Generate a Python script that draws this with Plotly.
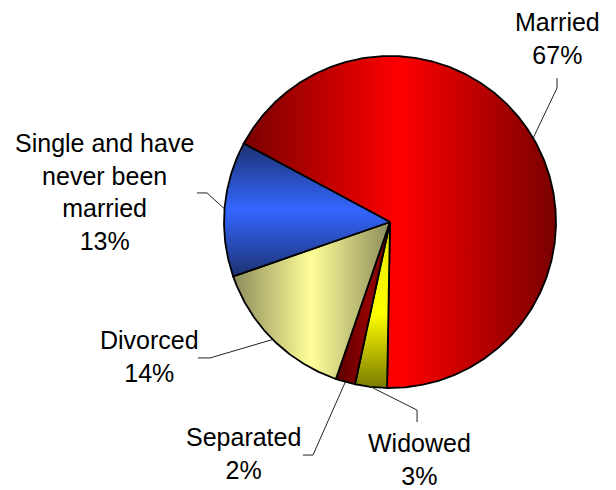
import numpy as np
import plotly.graph_objects as go

# ---------------- data ----------------
CATEGORIES = ["Married", "Widowed", "Separated", "Divorced",
              "Single and have never been married"]
VALUES = [67.45, 3.1, 1.9, 14.4, 13.15]
LABEL_TEXT = ["Married", "Widowed", "Separated", "Divorced",
              "Single and have<br>never been<br>married"]

# ---------------- style ----------------
START_ANGLE = -61.8          # degrees clockwise from 12 o'clock (first slice start)
GRADIENTS = [
    ("horizontal", [[0, "#780000"], [0.5, "#ff0000"], [1, "#780000"]]),
    ("vertical",   [[0, "#7a7a00"], [0.45, "#ffff00"], [1, "#e6e600"]]),
    ("horizontal", [[0, "#5a0000"], [0.6, "#940000"], [1, "#700000"]]),
    ("horizontal", [[0, "#8c8c5c"], [0.5, "#ffff99"], [1, "#8c8c5c"]]),
    ("vertical",   [[0, "#1d3272"], [0.5, "#3366ff"], [1, "#1d3272"]]),
]
# label centres and leader elbows in pie-radius units (centre = 0,0)
LABEL_POS = [(1.006, 1.108), (0.18, -1.43), (-0.885, -1.395),
             (-1.446, -0.813), (-1.717, 0.181)]
LEADER_ELBOW = [[(1.006, 0.807), (1.006, 0.867)],
                [(0.163, -1.133), (0.163, -1.205)],
                [(-0.464, -1.404), (-0.524, -1.404)],
                [(-1.084, -0.819), (-1.157, -0.819)],
                [(-1.102, 0.175), (-1.163, 0.175)]]
FONT = dict(family="Liberation Sans, Arial, sans-serif", size=25, color="#000000")

W, H = 616, 490
CX, CY, R = 390, 222, 166   # pixel centre / radius of the pie

fig = go.Figure()

total = float(sum(VALUES))
cum = 0.0
annotations = []
for i, (cat, v) in enumerate(zip(CATEGORIES, VALUES)):
    frac = v / total
    a0 = START_ANGLE + cum * 360.0
    a1 = a0 + frac * 360.0
    cum += frac
    th = np.radians(np.linspace(a0, a1, max(3, int(abs(a1 - a0) * 2) + 2)))
    xs = np.concatenate([[0.0], np.sin(th), [0.0]])
    ys = np.concatenate([[0.0], np.cos(th), [0.0]])
    gtype, cs = GRADIENTS[i]
    pct = int(round(frac * 100))
    fig.add_trace(go.Scatter(
        x=xs, y=ys, mode="lines", fill="toself",
        fillgradient=dict(type=gtype, colorscale=cs),
        line=dict(color="#000000", width=1.8),
        name=cat, hoverinfo="text", text=f"{cat}: {pct}%", showlegend=False,
    ))
    # leader line from slice mid-angle edge to label
    mid = np.radians((a0 + a1) / 2.0)
    lx = [np.sin(mid)] + [p[0] for p in LEADER_ELBOW[i]]
    ly = [np.cos(mid)] + [p[1] for p in LEADER_ELBOW[i]]
    fig.add_trace(go.Scatter(x=lx, y=ly, mode="lines",
                             line=dict(color="#222222", width=1),
                             hoverinfo="skip", showlegend=False))
    annotations.append(dict(
        x=LABEL_POS[i][0], y=LABEL_POS[i][1], xref="x", yref="y",
        text=f"{LABEL_TEXT[i]}<br>{pct}%", showarrow=False,
        xanchor="center", yanchor="middle", align="center", font=FONT,
    ))

fig.update_layout(
    width=W, height=H,
    margin=dict(l=0, r=0, t=0, b=0),
    paper_bgcolor="white", plot_bgcolor="white",
    xaxis=dict(range=[(0 - CX) / R, (W - CX) / R], visible=False,
               showgrid=False, zeroline=False, fixedrange=True),
    yaxis=dict(range=[(CY - H) / R, (CY - 0) / R], visible=False,
               showgrid=False, zeroline=False, fixedrange=True),
    annotations=annotations,
    showlegend=False,
)

fig.write_html("out.html",
               config={"displayModeBar": False},
               post_script="document.body.style.margin='0';document.body.style.overflow='hidden';")
